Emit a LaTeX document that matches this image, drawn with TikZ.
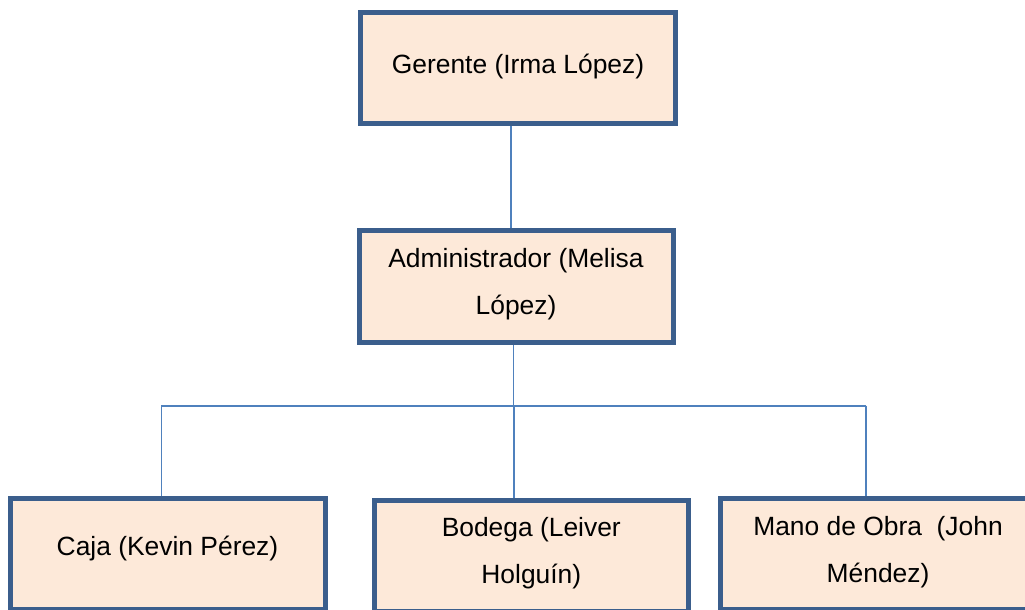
\documentclass[tikz,border=0pt]{standalone}
\usepackage{fontspec}
\setmainfont{Liberation Sans}
\definecolor{boxfill}{HTML}{FDE9D9}
\definecolor{boxline}{HTML}{3B5E8C}
\definecolor{linkline}{HTML}{4F81BD}
\begin{document}
\begin{tikzpicture}[x=1pt,y=-1pt,
  orgbox/.style={draw=boxline, fill=boxfill, line width=4.8pt, rectangle,
    minimum width=315pt, minimum height=111pt, inner sep=0pt},
  orgtext/.style={anchor=base, align=center, inner sep=0pt, text=black,
    font=\fontsize{26.4}{47}\selectfont},
  link/.style={draw=linkline, line width=1.6pt}]
\useasboundingbox (0,0) rectangle (1025,610);
\clip (0,0) rectangle (1025,610);

% boxes
\node[orgbox] (ger) at (518,68) {};
\node[orgbox, minimum width=314pt, minimum height=112pt] (adm) at (516.5,286.5) {};
\node[orgbox] (caja) at (168,554) {};
\node[orgbox, minimum width=314pt] (bod) at (531.5,556) {};
\node[orgbox] (mano) at (878,554) {};

% texts
\node[orgtext] (gerT) at (518,74) {Gerente (Irma López)};
\node[orgtext] (admT) at (516,314) {Administrador (Melisa\\López)};
\node[orgtext] (cajaT) at (167.5,555.7) {Caja (Kevin Pérez)};
\node[orgtext] (bodT) at (531.3,583) {Bodega (Leiver\\Holguín)};
\node[orgtext] (manoT) at (878,582) {Mano de Obra~~(John\\Méndez)};

% connector guides
\coordinate (xg) at (511,0);
\coordinate (xa) at (513.5,0);
\coordinate (busL) at (161.3,405.7);
\coordinate (busR) at (865.7,405.7);
\coordinate (busM) at (514,405.7);

% connectors
\draw[link] (ger.south -| xg) -- (adm.north -| xg);
\draw[link] (adm.south -| xa) -- (busM -| xa);
\draw[link] (busL) -- (busR);
\draw[link] (busL) -- (caja.north -| busL);
\draw[link] (busM) -- (bod.north -| busM);
\draw[link] (busR) -- (mano.north -| busR);
\end{tikzpicture}
\end{document}
